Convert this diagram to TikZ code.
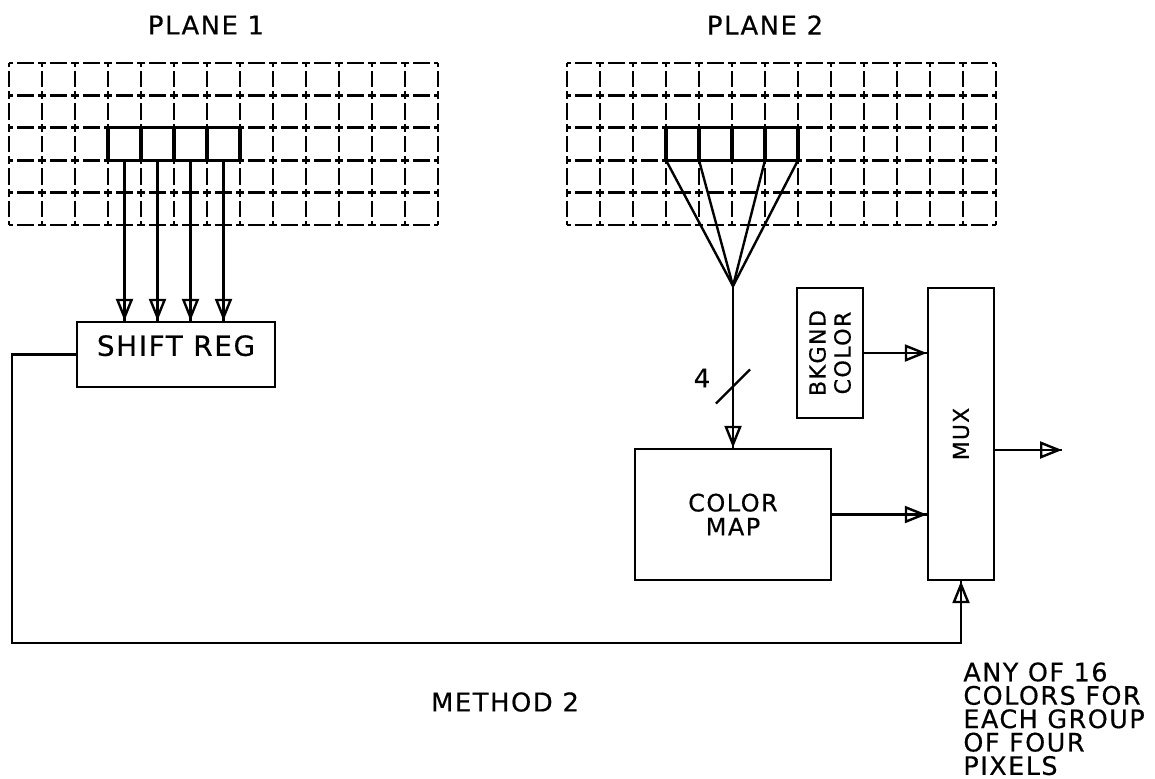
\documentclass[tikz,border=0pt]{standalone}
\usepackage{fontspec}
\setmainfont{DejaVu Sans}[LetterSpace=6, FakeBold=0.5]
\usetikzlibrary{arrows.meta}

\begin{document}
\begin{tikzpicture}[x=0.5pt, y=-0.5pt,
    hollow/.tip={Triangle[open, length=11pt, width=8.5pt]},
    feed/.style={line width=1.2pt, -hollow, postaction={draw, -}},
    hdash/.style={line width=1.4pt, dash pattern=on 4pt off 2pt on 8.5pt off 2pt, dash phase=2pt},
    vdash/.style={line width=1.4pt, dash pattern=on 4pt off 2pt on 8.2pt off 2pt, dash phase=2pt},
    cell/.style={line width=1.6pt},
    block/.style={draw, line width=1.2pt, inner sep=0pt, align=center},
    lbl/.style={inner sep=0pt, font=\fontsize{12.9}{11.7}\selectfont}]
    \useasboundingbox (0,0) rectangle (1155,778);

    % 1. The two pixel planes with the four selected cells
    \foreach \gx in {9, 567} {
        \foreach \r in {0,...,5}
            \draw[hdash] (\gx, 63+32.4*\r) -- (\gx+429, 63+32.4*\r);
        \foreach \c in {0,...,13}
            \draw[vdash] (\gx+33*\c, 63) -- (\gx+33*\c, 225);
        \draw[cell] (\gx+99, 127.8) rectangle (\gx+231, 160.2);
        \foreach \c in {4,5,6}
            \draw[cell] (\gx+33*\c, 127.8) -- (\gx+33*\c, 160.2);
    }
    \node[lbl] (plane1) at (206, 25) {PLANE 1};
    \node[lbl] (plane2) at (765, 25) {PLANE 2};

    % 2. Blocks
    \node[block, minimum width=99pt, minimum height=32.5pt, text depth=9pt,
          font=\fontsize{13.9}{14}\selectfont] (shiftreg) at (176, 354.5) {SHIFT REG};
    \node[block, minimum width=98pt, minimum height=65.5pt,
          font=\fontsize{12}{12}\selectfont] (cmap) at (733, 514.5) {COLOR\\MAP};
    \node[block, rotate=90, minimum width=65pt, minimum height=33pt,
          font=\fontsize{11.1}{12.5}\selectfont] (bkgnd) at (830, 353) {BKGND\\COLOR};
    \node[block, rotate=90, minimum width=146pt, minimum height=33pt,
          font=\fontsize{10.9}{12}\selectfont] (mux) at (961, 434) {MUX};

    % 3. Plane 1 feeds the shift register
    \foreach \c in {0,...,3} {
        \coordinate (tap\c) at (124.5+33*\c, 160.2);
        \draw[feed] (tap\c) -- (tap\c |- shiftreg.north);
    }

    % 4. Plane 2 bundled into a 4 bit bus to the colour map
    \coordinate (apex) at (733, 286);
    \foreach \x in {666, 699, 765, 798}
        \draw[line width=1.2pt] (\x, 160.2) -- (apex);
    \draw[feed] (apex) -- (cmap.north);
    \coordinate (tick) at (733, 386.5);
    \draw[line width=1.2pt] (tick) ++(-17,17) -- ++(34,-34);
    \node[lbl] (buswidth) at (702, 378) {4};

    % 5. Into and out of the multiplexer
    \draw[feed] (bkgnd.south) -- (bkgnd.south -| mux.north);
    \draw[feed] (cmap.east) -- (cmap.east -| mux.north);
    \coordinate (outend) at (1062, 450);
    \draw[feed] (outend -| mux.south) -- (outend);
    \coordinate (loop) at (12, 643);
    \draw[feed] (shiftreg.west) -| (loop) -| (mux.west);

    % 6. Captions
    \node[lbl] (method) at (505, 702) {METHOD 2};
    \node[lbl, font=\fontsize{12.7}{11.7}\selectfont, anchor=north west, align=left] (note) at (963, 662)
        {ANY OF 16\\COLORS FOR\\EACH GROUP\\OF FOUR\\PIXELS};
\end{tikzpicture}
\end{document}
